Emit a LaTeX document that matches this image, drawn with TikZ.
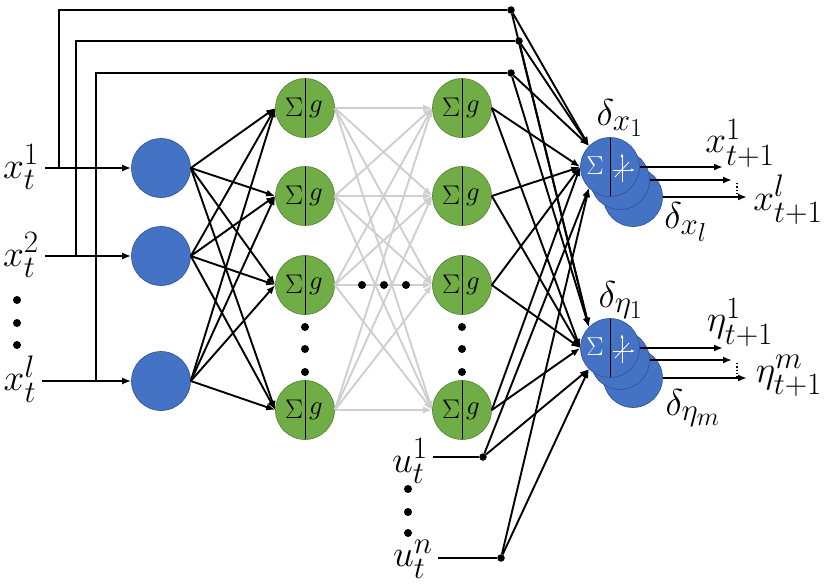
\documentclass[tikz,border=0pt]{standalone}
\usepackage{amsmath,amssymb}
\usepackage{graphicx}
\usepackage{xcolor}
\usepackage{tikz}
\usetikzlibrary{arrows.meta,calc}
\definecolor{UnitBlue}{HTML}{4472C4}
\definecolor{UnitBlueRim}{HTML}{2F528F}
\definecolor{UnitGreen}{HTML}{70AD47}
\definecolor{UnitGreenRim}{HTML}{507E32}
\definecolor{FaintWire}{HTML}{D0CECE}
\newcommand{\bigsym}[1]{\scalebox{1.5}{\Huge$#1$}}
\newcommand{\cellsym}[2]{\scalebox{#1}{\huge$#2$}}

\begin{document}
\begin{tikzpicture}[x=1pt,y=-1pt,>=Latex,
  inunit/.style={circle,fill=UnitBlue,draw=UnitBlueRim,line width=0.6pt,minimum size=59pt,inner sep=0pt},
  hunit/.style={circle,fill=UnitGreen,draw=UnitGreenRim,line width=0.6pt,minimum size=59pt,inner sep=0pt,
    path picture={
      \draw[black,line width=0.9pt] (path picture bounding box.north) -- (path picture bounding box.south);
      \node[inner sep=0pt] at ($(path picture bounding box.center)+(-11,-1)$) {\cellsym{1.3}{\Sigma}};
      \node[inner sep=0pt] at ($(path picture bounding box.center)+(11,1)$) {\cellsym{1.3}{g}};}},
  outback/.style={circle,fill=UnitBlue,draw=UnitBlueRim,line width=0.6pt,minimum size=59pt,inner sep=0pt},
  outunit/.style={outback,
    path picture={
      \draw[black,line width=0.9pt] (path picture bounding box.north) -- (path picture bounding box.south);
      \node[white,inner sep=0pt] at ($(path picture bounding box.center)+(-15,-1)$) {\cellsym{1.25}{\Sigma}};
      \draw[white,line width=0.8pt,-{Latex[length=4pt,width=3pt]}] ($(path picture bounding box.center)+(12,15)$) -- ($(path picture bounding box.center)+(12,-14)$);
      \draw[white,line width=0.8pt,-{Latex[length=4pt,width=3pt]}] ($(path picture bounding box.center)+(3,3)$) -- ($(path picture bounding box.center)+(25,3)$);
      \draw[white,line width=0.8pt] ($(path picture bounding box.center)+(5,10)$) -- ($(path picture bounding box.center)+(19,-5)$);}},
  tap/.style={circle,fill=black,inner sep=0pt,minimum size=7.5pt},
  lbl/.style={inner sep=1pt},
  link/.style={-{Latex[length=9pt,width=7pt]},line width=1.9pt,black},
  faint/.style={link,draw=FaintWire,-{Latex[length=9pt,width=7pt,color=FaintWire]}},
  wire/.style={line width=1.9pt,black}]
  \useasboundingbox (0,0) rectangle (830,584);

  \node[inunit] (in1) at (161,168) {};
  \node[inunit] (in2) at (161,256) {};
  \node[inunit] (in3) at (161,381) {};
  \node[lbl] (xl1) at (21,167) {\bigsym{x_t^1}};
  \node[lbl] (xl2) at (21,255) {\bigsym{x_t^2}};
  \node[lbl] (xl3) at (20,379) {\bigsym{x_t^l}};

  \foreach \r/\y in {1/108,2/196,3/285,4/410} {
    \node[hunit] (ha\r) at (305,\y) {};
    \node[hunit] (hb\r) at (462,\y) {};
  }

  \node[outback] (ox3) at (633,197) {};
  \node[outback] (ox2) at (620,180) {};
  \node[outunit] (ox1) at (610,167) {};
  \node[outback] (oe3) at (633,378) {};
  \node[outback] (oe2) at (620,360) {};
  \node[outunit] (oe1) at (610,348) {};

  \node[tap] (s1) at (511,10) {};
  \node[tap] (s2) at (519,41) {};
  \node[tap] (s3) at (511,73) {};
  \node[tap] (su1) at (483,457) {};
  \node[tap] (su2) at (501,558) {};
  \node[lbl] (ul1) at (410,461) {\bigsym{u_t^1}};
  \node[lbl] (ul2) at (413,559) {\bigsym{u_t^n}};

  \coordinate (b1) at (59,168);
  \coordinate (b2) at (76,256);
  \coordinate (b3) at (96,381);
  \draw[wire] (b1) |- (s1);
  \draw[wire] (b2) |- (s2);
  \draw[wire] (b3) |- (s3);
  \foreach \i in {1,2,3} \draw[link,shorten <=5pt] (in\i -| xl\i.east) -- (in\i);

  \foreach \i in {1,2,3} \foreach \j in {1,...,4} \draw[link] (in\i.east) -- (ha\j.west);
  \foreach \i in {1,...,4} \foreach \j in {1,...,4} \draw[faint] (ha\i.east) -- (hb\j.west);
  \foreach \i in {1,...,4} {
    \draw[link] (hb\i.east) -- (ox1.west);
    \draw[link] (hb\i.east) -- (oe1.west);
  }
  \foreach \s in {s1,s2,s3} {
    \draw[link] (\s) -- (ox1.135);
    \draw[link] (\s) -- (oe1.135);
  }
  \foreach \s in {su1,su2} {
    \draw[link] (\s) -- (ox1.225);
    \draw[link] (\s) -- (oe1.225);
  }
  \draw[wire,shorten <=4pt] (ul1.east |- su1) -- (su1);
  \draw[wire,shorten <=4pt] (ul2.east |- su2) -- (su2);

  \coordinate (ex1) at (723,167);
  \coordinate (ex2) at (732,180);
  \coordinate (ex3) at (747,197);
  \coordinate (ee1) at (723,348);
  \coordinate (ee2) at (732,360);
  \coordinate (ee3) at (747,378);
  \draw[link] (ox1.east) -- (ex1);
  \draw[link] (ox2.east) -- (ex2);
  \draw[link] (ox3.east) -- (ex3);
  \draw[link] (oe1.east) -- (ee1);
  \draw[link] (oe2.east) -- (ee2);
  \draw[link] (oe3.east) -- (ee3);
  \draw[dotted,line width=1.3pt] ($(ex2)+(5,3)$) -- ($(ex2)+(5,17)$);
  \draw[dotted,line width=1.3pt] ($(ee2)+(5,3)$) -- ($(ee2)+(5,18)$);

  \node[lbl] (dx1) at (620,118) {\bigsym{\delta_{x_1}}};
  \node[lbl] (dxl) at (686,222) {\bigsym{\delta_{x_l}}};
  \node[lbl] (xo1) at (740,143) {\bigsym{x_{t+1}^1}};
  \node[lbl] (xol) at (788,200) {\bigsym{x_{t+1}^l}};
  \node[lbl] (de1) at (621,300) {\bigsym{\delta_{\eta_1}}};
  \node[lbl] (dem) at (693,408) {\bigsym{\delta_{\eta_m}}};
  \node[lbl] (eo1) at (740,322) {\bigsym{\eta_{t+1}^1}};
  \node[lbl] (eom) at (789,376) {\bigsym{\eta_{t+1}^m}};

  \foreach \y in {300,323,345} \fill (17,\y) circle (4);
  \foreach \y in {327,349,372} {
    \fill (305,\y) circle (4);
    \fill (462,\y) circle (4);
  }
  \foreach \x in {362,384,406} \fill (\x,285) circle (4);
  \foreach \y in {489,512,533} \fill (408,\y) circle (4);
\end{tikzpicture}
\end{document}
